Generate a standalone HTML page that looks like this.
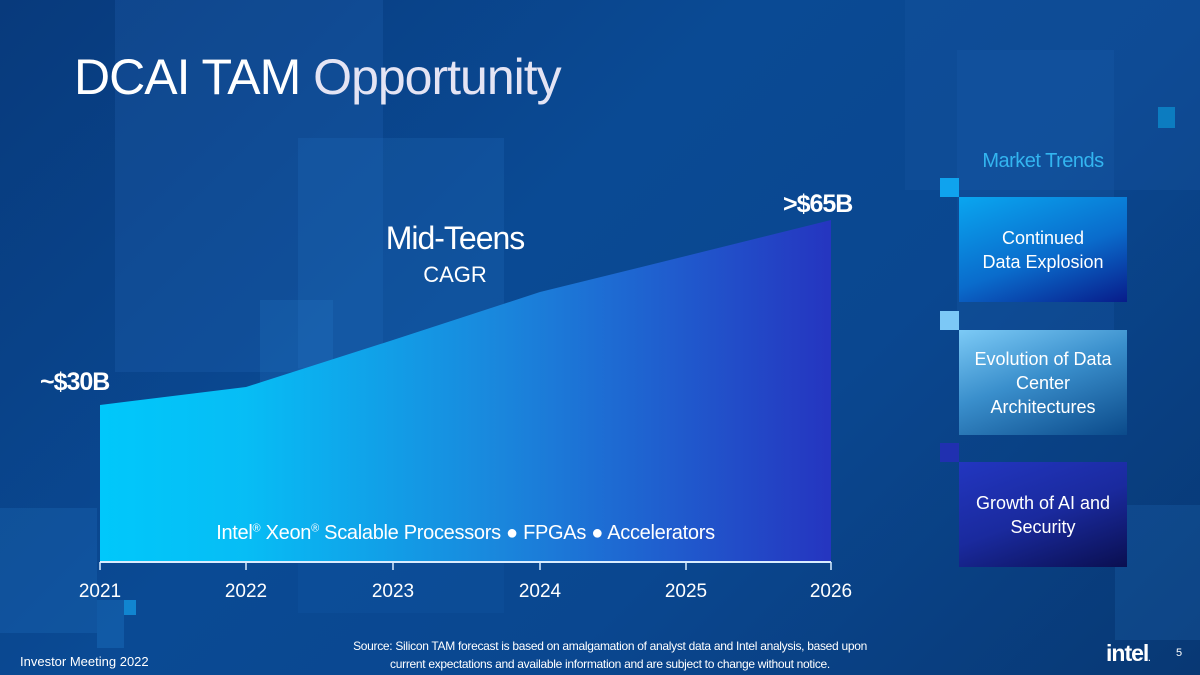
<!DOCTYPE html>
<html><head><meta charset="utf-8"><style>
*{margin:0;padding:0}
body{width:1200px;height:675px;overflow:hidden;position:relative;font-family:"Liberation Sans",sans-serif;color:#fff;
background:linear-gradient(135deg,#083a7c 0%,#0a4a94 40%,#0a4790 65%,#083874 100%);}
.a{position:absolute}
.sq{position:absolute}
.box{position:absolute;left:959px;width:168px;height:105px;display:flex;align-items:center;justify-content:center;text-align:center;font-size:18px;line-height:24px}
</style></head><body>
<div class="sq" style="left:115px;top:0;width:268px;height:372px;background:rgba(40,110,190,0.22)"></div>
<div class="sq" style="left:298px;top:138px;width:206px;height:230px;background:rgba(40,120,200,0.2)"></div>
<div class="sq" style="left:298px;top:368px;width:206px;height:245px;background:rgba(40,120,200,0.1)"></div>
<div class="sq" style="left:260px;top:300px;width:73px;height:128px;background:rgba(40,130,210,0.2)"></div>
<div class="sq" style="left:905px;top:0;width:295px;height:190px;background:rgba(30,90,170,0.22)"></div>
<div class="sq" style="left:957px;top:50px;width:157px;height:280px;background:rgba(30,100,180,0.2)"></div>
<div class="sq" style="left:1158px;top:107px;width:17px;height:21px;background:#0c7cc0"></div>
<div class="sq" style="left:0;top:508px;width:97px;height:125px;background:rgba(40,130,210,0.2)"></div>
<div class="sq" style="left:97px;top:600px;width:27px;height:48px;background:rgba(40,140,220,0.25)"></div>
<div class="sq" style="left:124px;top:600px;width:12px;height:15px;background:#1185d0"></div>
<div class="sq" style="left:1115px;top:505px;width:85px;height:135px;background:rgba(40,120,200,0.2)"></div>
<div class="a" style="left:74px;top:48px;font-size:50px;letter-spacing:-1px;color:#fff">DCAI TAM <span style="color:#e4e4f4">Opportunity</span></div>

<svg class="a" style="left:0;top:0" width="1200" height="675">
<defs><linearGradient id="g" x1="0" x2="1" y1="0" y2="0">
<stop offset="0" stop-color="#00c8fb"/><stop offset="0.2" stop-color="#07bdf5"/><stop offset="0.55" stop-color="#1a86dc"/><stop offset="1" stop-color="#2535c0"/></linearGradient></defs>
<polygon points="100,405 246,387 393,340 540,292 686,256 831,220 831,562 100,562" fill="url(#g)"/>
<line x1="100" y1="562" x2="831" y2="562" stroke="#d8ecff" stroke-width="2"/>
<g stroke="#d8ecff" stroke-width="1.5">
<line x1="100" y1="562" x2="100" y2="570"/><line x1="246" y1="562" x2="246" y2="570"/><line x1="393" y1="562" x2="393" y2="570"/><line x1="540" y1="562" x2="540" y2="570"/><line x1="686" y1="562" x2="686" y2="570"/><line x1="831" y1="562" x2="831" y2="570"/></g>
<g font-size="19" fill="#fff" text-anchor="middle" font-family="Liberation Sans">
<text x="100" y="597">2021</text><text x="246" y="597">2022</text><text x="393" y="597">2023</text><text x="540" y="597">2024</text><text x="686" y="597">2025</text><text x="831" y="597">2026</text></g>
</svg>
<div class="a" style="left:40px;top:368px;font-size:25px;font-weight:bold;letter-spacing:-1px">~$30B</div>
<div class="a" style="left:783px;top:190px;font-size:25px;font-weight:bold;letter-spacing:-1px">&gt;$65B</div>
<div class="a" style="left:355px;top:220px;width:200px;text-align:center;font-size:32px;letter-spacing:-1px">Mid-Teens</div>
<div class="a" style="left:355px;top:262px;width:200px;text-align:center;font-size:22px">CAGR</div>
<div class="a" style="left:100px;top:522px;width:731px;text-align:center;font-size:20px;letter-spacing:-0.3px">Intel<sup style="font-size:11px">®</sup> Xeon<sup style="font-size:11px">®</sup> Scalable Processors ● FPGAs ● Accelerators</div>

<div class="a" style="left:959px;top:150px;width:168px;text-align:center;font-size:20px;color:#33b5f0;letter-spacing:-0.5px">Market Trends</div>
<div class="sq" style="left:940px;top:178px;width:19px;height:19px;background:#0fa3ee"></div>
<div class="box" style="top:197px;background:linear-gradient(160deg,#0aa6f0 0%,#0a6ccc 55%,#081c8a 100%)">Continued<br>Data Explosion</div>
<div class="sq" style="left:940px;top:311px;width:19px;height:19px;background:#7cc8f6"></div>
<div class="box" style="top:330px;background:linear-gradient(160deg,#7ccaf6 0%,#3a8fcc 45%,#0b4a8a 100%)">Evolution of Data<br>Center<br>Architectures</div>
<div class="sq" style="left:940px;top:443px;width:19px;height:19px;background:#2030b0"></div>
<div class="box" style="top:462px;background:linear-gradient(160deg,#2236c0 0%,#1a2a9e 50%,#0a0f50 100%)">Growth of AI and<br>Security</div>

<div class="a" style="left:20px;top:654px;font-size:13px">Investor Meeting 2022</div>
<div class="a" style="left:270px;top:637px;width:680px;text-align:center;font-size:12px;line-height:18px;letter-spacing:-0.3px">Source: Silicon TAM forecast is based on amalgamation of analyst data and Intel analysis, based upon<br>current expectations and available information and are subject to change without notice.</div>
<div class="a" style="left:1106px;top:640px;font-size:23px;font-weight:bold;letter-spacing:-1px">intel<span style="font-size:8px">.</span></div>
<div class="a" style="left:1176px;top:647px;font-size:11px">5</div>
</body></html>
